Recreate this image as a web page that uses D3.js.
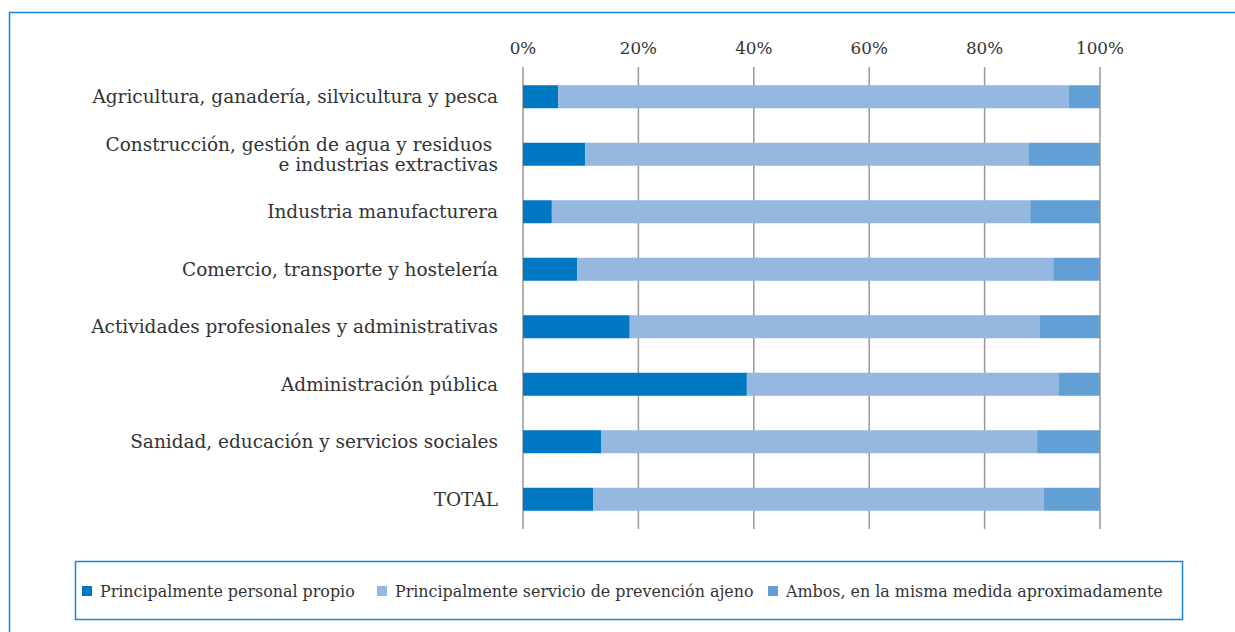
<!DOCTYPE html>
<html>
<head>
<meta charset="utf-8">
<script src="https://cdn.jsdelivr.net/npm/d3@7"></script>
<style>
  body { margin: 0; background: #fff; }
  svg text { font-family: "DejaVu Serif", "Liberation Serif", serif; fill: #333; }
</style>
</head>
<body>
<svg id="chart" width="1235" height="632"></svg>
<script>
// categories, top to bottom (multi-line labels split on "|")
var categories = [
    "Agricultura, ganadería, silvicultura y pesca",
    "Construcción, gestión de agua y residuos |e industrias extractivas",
    "Industria manufacturera",
    "Comercio, transporte y hostelería",
    "Actividades profesionales y administrativas",
    "Administración pública",
    "Sanidad, educación y servicios sociales",
    "TOTAL"
];
var seriesNames = [
    "Principalmente personal propio",
    "Principalmente servicio de prevención ajeno",
    "Ambos, en la misma medida aproximadamente"
];
// percentage values
var propio = [6.1, 10.8, 5.0, 9.4, 18.5, 38.8, 13.6, 12.2];
var ajeno  = [88.5, 76.9, 82.9, 82.5, 71.0, 54.0, 75.5, 78.1];
var ambos  = [5.4, 12.3, 12.1, 8.1, 10.5, 7.2, 10.9, 9.7];
var tickValues = [0, 20, 40, 60, 80, 100];

var colors = ["#0078c1", "#94b8e0", "#629fd5"];

var svg = d3.select("#chart");

// shrink/grow a text selection so that one sample string gets the wanted width
function fitFont(sel, sampleNode, wanted, start) {
    sel.style("font-size", start + "px");
    var w = sampleNode.getBBox().width;
    sel.style("font-size", (start * wanted / w) + "px");
}

// outer frame (top and left rule)
svg.append("path")
    .attr("d", "M9.5,632 L9.5,12.5 L1235,12.5")
    .attr("fill", "none")
    .attr("stroke", "#1a84d6")
    .attr("stroke-width", 1.5);

var x = d3.scaleLinear().domain([0, 100]).range([523, 1100]);
var y = d3.scaleBand().domain(d3.range(categories.length)).range([68, 528]).paddingInner(0.6).paddingOuter(0.3);

// build stacked rows
var rows = categories.map(function(c, i) {
    return { key: i, v0: propio[i], v1: ajeno[i], v2: ambos[i] };
});
var stack = d3.stack().keys(["v0", "v1", "v2"]);
var layers = stack(rows);

// gridlines
svg.append("g").selectAll("line")
    .data(tickValues)
    .enter().append("line")
    .attr("x1", function(d) { return x(d); })
    .attr("x2", function(d) { return x(d); })
    .attr("y1", 67)
    .attr("y2", 529)
    .attr("stroke", "#999")
    .attr("stroke-width", 1.5);

// tick labels on top
var ticks = svg.append("g").selectAll("text")
    .data(tickValues)
    .enter().append("text")
    .attr("x", function(d) { return x(d); })
    .attr("y", 54)
    .attr("text-anchor", "middle")
    .text(function(d) { return d + "%"; });
fitFont(ticks, ticks.nodes()[5], 48, 18);

// bars
svg.append("g").selectAll("g")
    .data(layers)
    .enter().append("g")
    .attr("fill", function(d, i) { return colors[i]; })
    .selectAll("rect")
    .data(function(d) { return d; })
    .enter().append("rect")
    .attr("x", function(d) { return x(d[0]); })
    .attr("width", function(d) { return x(d[1]) - x(d[0]); })
    .attr("y", function(d) { return y(d.data.key); })
    .attr("height", y.bandwidth());

// category labels
var labels = svg.append("g").selectAll("text")
    .data(categories)
    .enter().append("text")
    .attr("text-anchor", "end")
    .attr("transform", function(d, i) {
        return "translate(498," + (y(i) + y.bandwidth() / 2) + ")";
    });
labels.each(function(d) {
    var parts = d.split("|");
    var t = d3.select(this);
    var startDy = 0.35 - (parts.length - 1) * 0.55;
    parts.forEach(function(p, j) {
        t.append("tspan")
            .attr("x", 0)
            .attr("dy", j == 0 ? startDy + "em" : "1.1em")
            .style("white-space", "pre")
            .text(p);
    });
});
fitFont(labels, labels.nodes()[0], 407, 18);

// legend
svg.append("rect")
    .attr("x", 75.5).attr("y", 561.5)
    .attr("width", 1107).attr("height", 58)
    .attr("fill", "none")
    .attr("stroke", "#1a84d6")
    .attr("stroke-width", 1.5);

var legendX = [82, 377, 768];
var legend = svg.append("g").selectAll("g")
    .data(seriesNames)
    .enter().append("g")
    .attr("transform", function(d, i) { return "translate(" + legendX[i] + ",591)"; });
legend.append("rect")
    .attr("x", 0).attr("y", -5)
    .attr("width", 10).attr("height", 10)
    .attr("fill", function(d, i) { return colors[i]; });
var legendText = legend.append("text")
    .attr("x", 18)
    .attr("y", 6)
    .text(function(d) { return d; });
fitFont(legendText, legendText.nodes()[0], 255, 16);
</script>
</body>
</html>
